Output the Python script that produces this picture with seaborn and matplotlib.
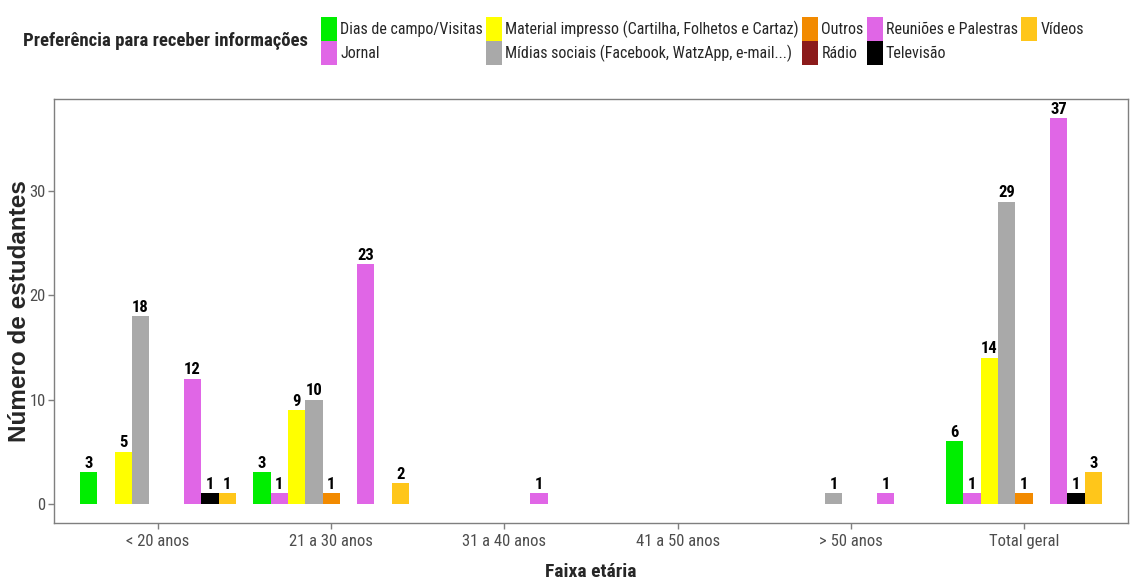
import numpy as np
import pandas as pd
import matplotlib
matplotlib.use('Agg')
import matplotlib.pyplot as plt
from matplotlib.patches import Patch
import seaborn as sns

# dados
faixas = ['< 20 anos', '21 a 30 anos', '31 a 40 anos', '41 a 50 anos', '> 50 anos', 'Total geral']
prefs = ['Dias de campo/Visitas', 'Jornal', 'Material impresso (Cartilha, Folhetos e Cartaz)',
         'Mídias sociais (Facebook, WatzApp, e-mail...)', 'Outros', 'Rádio',
         'Reuniões e Palestras', 'Televisão', 'Vídeos']
cores = ['#00EE00', '#E066E6', '#FFFF00', '#A9A9A9', '#F28A00', '#8B1A1A',
         '#E066E6', '#000000', '#FFC61A']

# valores por faixa (ordem de prefs), 0 = sem barra
v_menos20 = [3, 0, 5, 18, 0, 0, 12, 1, 1]
v_21a30 = [3, 1, 9, 10, 1, 0, 23, 0, 2]
v_31a40 = [0, 0, 0, 0, 0, 0, 1, 0, 0]
v_41a50 = [0, 0, 0, 0, 0, 0, 0, 0, 0]
v_mais50 = [0, 0, 0, 1, 0, 0, 1, 0, 0]
v_total = [6, 1, 14, 29, 1, 0, 37, 1, 3]

rows = []
for faixa, vals in zip(faixas, [v_menos20, v_21a30, v_31a40, v_41a50, v_mais50, v_total]):
    for p, v in zip(prefs, vals):
        if v > 0:
            rows.append({'faixa': faixa, 'pref': p, 'n': v})
df = pd.DataFrame(rows)

sns.set_style('white')
plt.rcParams['font.family'] = ['Roboto Condensed', 'Liberation Sans', 'DejaVu Sans']

W, H = 1139, 583
fig = plt.figure(figsize=(W / 100, H / 100), dpi=100)
ax = fig.add_axes([54 / W, 60 / H, 1074 / W, 424 / H])

sns.barplot(data=df, x='faixa', y='n', hue='pref', order=faixas, hue_order=prefs,
            palette=dict(zip(prefs, cores)), width=0.9, gap=0, saturation=1,
            errorbar=None, legend=False, ax=ax, linewidth=0)

for cont in ax.containers:
    ax.bar_label(cont, fmt='%d', padding=1, fontsize=12, fontweight='bold', color='black')

ax.set_xlim(-0.6, 5.6)
ax.set_ylim(-1.85, 38.85)
ax.set_yticks([0, 10, 20, 30])
for s in ax.spines.values():
    s.set_visible(True)
    s.set_color('#7F7F7F')
    s.set_linewidth(1.0)
ax.tick_params(axis='both', which='major', length=4, width=1, color='#7F7F7F',
               labelcolor='#4D4D4D', direction='out', bottom=True, left=True, pad=2)
ax.tick_params(axis='x', labelsize=12, pad=4)
ax.tick_params(axis='y', labelsize=12)

ax.set_xlabel('Faixa etária', fontsize=14, fontweight='bold', va='center')
ax.xaxis.set_label_coords(0.5, -(572 - 523) / 424)
ax.set_ylabel('Número de estudantes', fontsize=17.5, fontweight='bold', va='center',
              family=['Liberation Sans', 'DejaVu Sans'])
ax.yaxis.set_label_coords(-(54 - 19) / 1074, 0.5)

handles = [Patch(facecolor=c, edgecolor='none') for c in cores]
fig.legend(handles, prefs, ncol=5, loc='upper left', bbox_to_anchor=(321 / W, 1 - 17 / H),
           frameon=False, fontsize=11.5, handlelength=1.0, handleheight=1.95,
           handletextpad=0.2, columnspacing=0.2, labelspacing=0.0, borderpad=0,
           borderaxespad=0)
fig.text(308 / W, 1 - 41 / H, 'Preferência para receber informações', ha='right',
         va='center', fontsize=13.5, fontweight='bold')

fig.savefig('out.png', dpi=100)
